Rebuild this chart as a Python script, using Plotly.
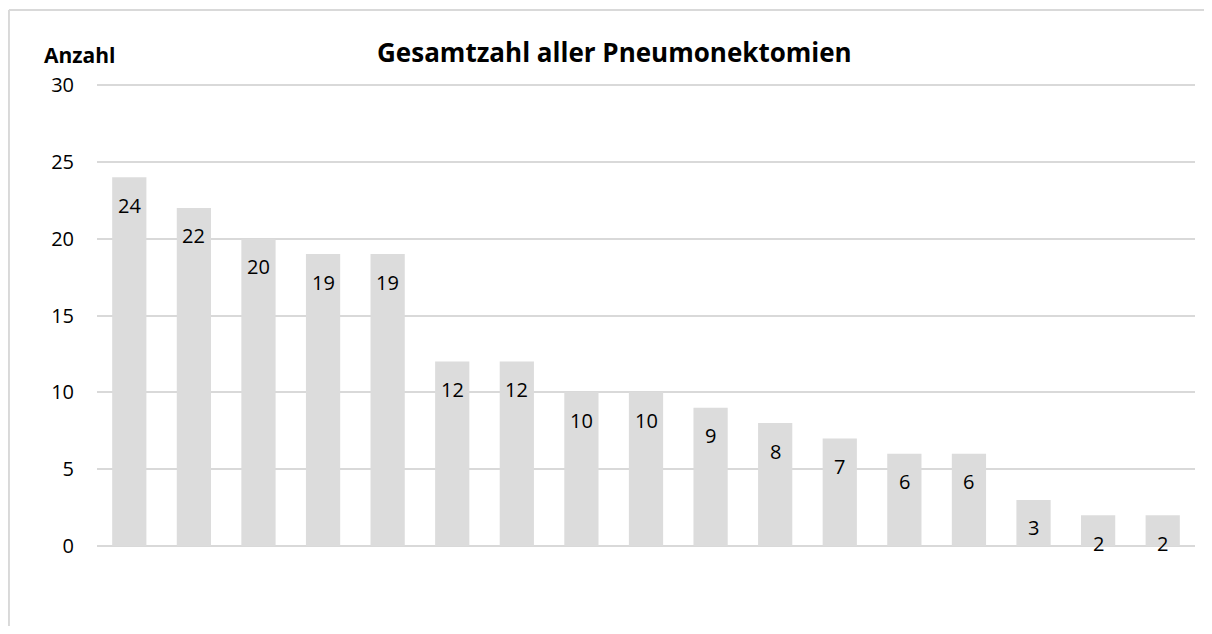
import plotly.graph_objects as go

categories = [f"K{i}" for i in range(1, 18)]
values = [24, 22, 20, 19, 19, 12, 12, 10, 10, 9, 8, 7, 6, 6, 3, 2, 2]
y_ticks = [0, 5, 10, 15, 20, 25, 30]

FONT = "Open Sans"

fig = go.Figure()
fig.add_trace(go.Bar(
    x=categories, y=values,
    marker=dict(color="#dcdcdc", line=dict(width=0)),
    hoverinfo="x+y",
))

for c, v in zip(categories, values):
    fig.add_annotation(x=c, y=v, text=str(v), showarrow=False,
                       yanchor="middle", yshift=-28,
                       font=dict(family=FONT, size=20, color="#000000"))

top_y = (538 - 2) / 463
left_x = -0.0802
fig.update_layout(
    width=1196, height=618,
    paper_bgcolor="white", plot_bgcolor="white",
    margin=dict(l=89, r=9, t=75, b=80),
    bargap=0.47,
    showlegend=False,
    title=dict(text="<b>Gesamtzahl aller Pneumonektomien</b>", xref="paper", x=0.4712,
               xanchor="center", yref="container", y=1 - 45 / 618, yanchor="middle",
               font=dict(family=FONT, size=26, color="#000000")),
    xaxis=dict(showticklabels=False, showgrid=False, zeroline=False,
               showline=False, ticks=""),
    yaxis=dict(range=[0, 30.13], tickvals=y_ticks, showgrid=True,
               gridcolor="#d9d9d9", gridwidth=1.5, zeroline=True,
               zerolinecolor="#d9d9d9", zerolinewidth=1.5,
               ticks="", ticklabelstandoff=22,
               tickfont=dict(family=FONT, size=20, color="#000000")),
    shapes=[
        dict(type="line", xref="paper", yref="paper", x0=left_x, x1=left_x,
             y0=-0.3, y1=top_y, line=dict(color="#d9d9d9", width=2), layer="below"),
        dict(type="line", xref="paper", yref="paper", x0=left_x, x1=1.02,
             y0=top_y, y1=top_y, line=dict(color="#d9d9d9", width=2), layer="below"),
    ],
)
fig.add_annotation(xref="paper", yref="paper", x=-0.0501, y=(538 - 47) / 463,
                   xanchor="left", yanchor="middle", text="<b>Anzahl</b>",
                   showarrow=False,
                   font=dict(family=FONT, size=21, color="#000000"))

fig.write_html("out.html")
